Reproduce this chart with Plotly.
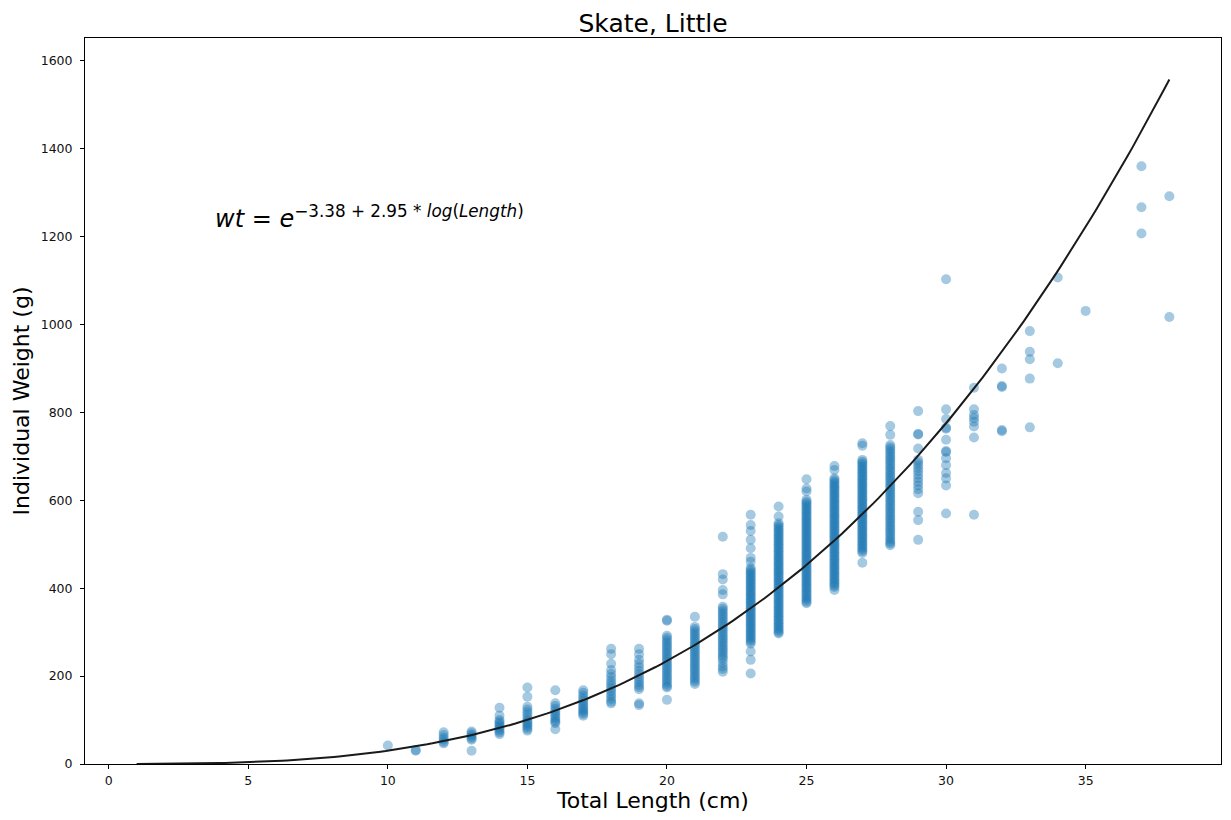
import numpy as np
import plotly.graph_objects as go

# ---- data ----
lengths = [10, 11, 12, 13, 14, 15, 16, 17, 18, 19, 20, 21, 22, 23, 24, 25, 26, 27, 28,
           29, 30, 31, 32, 33, 34, 35, 37, 38]

w10 = [42]
w11 = [30, 32]
w12 = [72, 66, 60, 55, 50, 47]
w13 = [74, 70, 66, 62, 58, 55, 30]
w14 = [128, 110, 100, 96, 92, 88, 84, 80, 76, 72, 68]
w15 = [174, 153, 130, 124, 118, 112, 106, 100, 96, 92, 88, 84, 80, 76]
w16 = [168, 138, 132, 126, 120, 115, 110, 105, 100, 96, 93, 79]
w17 = [168, 162, 156, 150, 145, 140, 135, 130, 126, 122, 118, 114, 110]
w18 = [262, 250, 228, 214, 205, 198, 190, 184, 178, 172, 166, 160, 154, 148, 142, 138]
w19 = [262, 250, 237, 228, 220, 212, 205, 198, 192, 186, 180, 175, 170, 138, 134]
w20 = [328, 326, 292, 287, 282, 277, 272, 267, 262, 257, 252, 247, 242, 237, 232, 227,
       222, 217, 212, 207, 202, 197, 192, 187, 182, 177, 174, 146]
w21 = [335, 312, 307, 302, 297, 292, 287, 282, 277, 272, 267, 262, 257, 252, 247, 242,
       237, 232, 227, 222, 217, 212, 207, 202, 197, 192, 187, 182]
w22 = [517, 432, 420, 396, 386, 358, 353, 348, 343, 338, 333, 328, 323, 318, 313, 308,
       303, 298, 293, 288, 283, 278, 273, 268, 263, 258, 253, 248, 243, 238, 230, 222,
       216, 210]
w23 = [567, 544, 530, 510, 491, 469, 460, 446, 442, 438, 434, 430, 426, 422, 418, 414,
       410, 406, 402, 398, 394, 390, 386, 382, 378, 374, 370, 366, 362, 358, 354, 350,
       346, 342, 338, 334, 330, 326, 322, 318, 314, 310, 306, 302, 298, 294, 290, 286,
       282, 278, 274, 256, 237, 206]
w24 = [586, 563, 548, 544, 540, 536, 532, 528, 524, 520, 516, 512, 508, 504, 500, 496,
       492, 488, 484, 480, 476, 472, 468, 464, 460, 456, 452, 448, 444, 440, 436, 432,
       428, 424, 420, 416, 412, 408, 404, 400, 396, 392, 388, 384, 380, 376, 372, 368,
       364, 360, 356, 352, 348, 344, 340, 336, 332, 328, 324, 320, 316, 312, 308, 304,
       300, 297]
w25 = [648, 627, 620, 601, 597, 593, 589, 585, 581, 577, 573, 569, 565, 561, 557, 553,
       549, 545, 541, 537, 533, 529, 525, 521, 517, 513, 509, 505, 501, 497, 493, 489,
       485, 481, 477, 473, 469, 465, 461, 457, 453, 449, 445, 441, 437, 433, 429, 425,
       421, 417, 413, 409, 405, 401, 397, 393, 389, 385, 381, 377, 373, 369, 366]
w26 = [678, 669, 650, 646, 642, 638, 634, 630, 626, 622, 618, 614, 610, 606, 602, 598,
       594, 590, 586, 582, 578, 574, 570, 566, 562, 558, 554, 550, 546, 542, 538, 534,
       530, 526, 522, 518, 514, 510, 506, 502, 498, 494, 490, 486, 482, 478, 474, 470,
       466, 462, 458, 454, 450, 446, 442, 438, 434, 430, 426, 422, 418, 414, 410, 406,
       403, 396]
w27 = [730, 724, 692, 688, 684, 680, 676, 672, 668, 664, 660, 656, 652, 648, 644, 640,
       636, 632, 628, 624, 620, 616, 612, 608, 604, 600, 596, 592, 588, 584, 580, 576,
       572, 568, 564, 560, 556, 552, 548, 544, 540, 536, 532, 528, 524, 520, 516, 512,
       508, 504, 500, 496, 492, 488, 484, 480, 458]
w28 = [769, 749, 726, 721, 716, 711, 706, 701, 696, 691, 686, 681, 676, 671, 666, 661,
       656, 651, 646, 641, 636, 631, 626, 621, 616, 611, 606, 601, 596, 591, 586, 581,
       576, 571, 566, 561, 556, 551, 546, 541, 536, 531, 526, 521, 516, 511, 506, 502,
       498]
w29 = [803, 751, 750, 718, 692, 686, 680, 673, 666, 658, 650, 642, 634, 625, 616, 574,
       555, 510]
w30 = [1103, 807, 785, 765, 763, 738, 712, 710, 696, 680, 662, 650, 634, 570]
w31 = [856, 807, 794, 787, 779, 768, 743, 567]
w32 = [900, 860, 858, 760, 757]
w33 = [985, 938, 921, 877, 766]
w34 = [1107, 912]
w35 = [1031]
w37 = [1360, 1267, 1207]
w38 = [1292, 1017]

weights = [w10, w11, w12, w13, w14, w15, w16, w17, w18, w19, w20, w21, w22, w23, w24,
           w25, w26, w27, w28, w29, w30, w31, w32, w33, w34, w35, w37, w38]

# fitted model shown on the chart
intercept = -3.38
slope = 2.95
curve_start, curve_end = 1, 38

x_ticks = [0, 5, 10, 15, 20, 25, 30, 35]
y_ticks = [0, 200, 400, 600, 800, 1000, 1200, 1400, 1600]

# ---- build ----
xs, ys = [], []
for L, ws in zip(lengths, weights):
    xs.extend([L] * len(ws))
    ys.extend(ws)

cx = np.linspace(curve_start, curve_end, 200)
cy = np.exp(intercept + slope * np.log(cx))

FONT = "DejaVu Sans"

fig = go.Figure()
fig.add_trace(go.Scatter(
    x=xs, y=ys, mode="markers",
    marker=dict(size=10, color="#1f77b4", opacity=0.4, line=dict(width=0)),
    showlegend=False, hoverinfo="x+y"))
fig.add_trace(go.Scatter(
    x=cx, y=cy, mode="lines",
    line=dict(color="#1a1a1a", width=2),
    showlegend=False))

fig.add_annotation(
    x=3.75, y=1245, xref="x", yref="y", xanchor="left", yanchor="middle",
    text="<i>wt</i> = <i>e</i><sup>−3.38 + 2.95 * <i>log</i>(<i>Length</i>)</sup>",
    showarrow=False, font=dict(family=FONT, size=24, color="#000000"))

axis_common = dict(
    showgrid=False, zeroline=False, showline=True, linecolor="#000000", linewidth=1,
    mirror=True, ticks="outside", ticklen=4, tickwidth=1, tickcolor="#000000",
    tickfont=dict(family=FONT, size=12.5, color="#111111"))

fig.update_layout(
    width=1231, height=820,
    margin=dict(l=77, r=18, t=30, b=64),
    paper_bgcolor="white", plot_bgcolor="white",
    title=dict(text="Skate, Little", x=0.524, xanchor="center", y=0.982, yanchor="middle",
               font=dict(family=FONT, size=25, color="#000000")),
    xaxis=dict(range=[-0.85, 39.85], tickvals=x_ticks, ticklabelstandoff=1,
               title=dict(text="Total Length (cm)", font=dict(family=FONT, size=22, color="#000000"),
                          standoff=5),
               **axis_common),
    yaxis=dict(range=[0, 1652], tickvals=y_ticks, ticklabelstandoff=5,
               title=dict(text="Individual Weight (g)", font=dict(family=FONT, size=22, color="#000000"),
                          standoff=4),
               **axis_common),
)

fig.write_html("out.html")
